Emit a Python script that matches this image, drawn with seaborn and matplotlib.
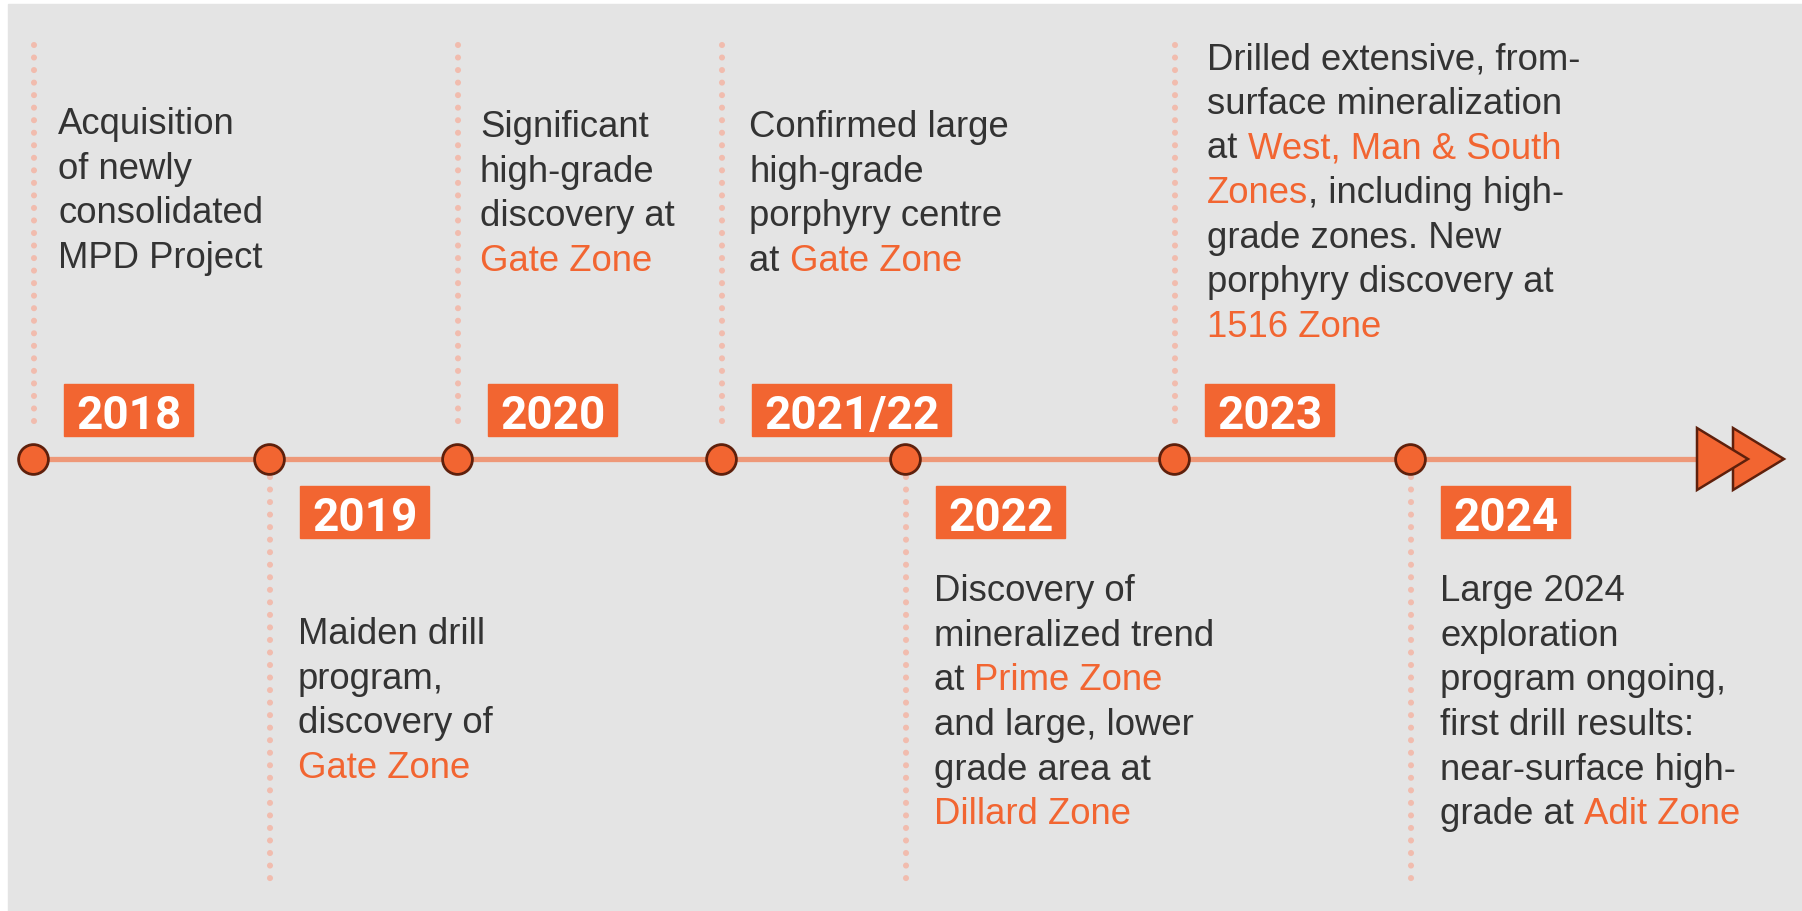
import re
import matplotlib
matplotlib.use("Agg")
import matplotlib.pyplot as plt
from matplotlib.patches import Rectangle, Polygon
import pandas as pd
import seaborn as sns

# timeline data
years = ["2018", "2019", "2020", "2021/22", "2022", "2023", "2024"]
event_x = [33, 269, 457, 721, 905, 1174, 1410]  # position along the timeline (px)
side = ["up", "down", "up", "up", "down", "up", "down"]
first_baseline = [134, 644, 137, 137, 601, 69, 601]
text_dx = [25, 29, 23, 28, 29, 33, 30]

# [..] = highlighted in orange
desc_2018 = ["Acquisition", "of newly", "consolidated", "MPD Project"]
desc_2019 = ["Maiden drill", "program,", "discovery of", "[Gate Zone]"]
desc_2020 = ["Significant", "high-grade", "discovery at", "[Gate Zone]"]
desc_2021 = ["Confirmed large", "high-grade", "porphyry centre", "at [Gate Zone]"]
desc_2022 = ["Discovery of", "mineralized trend", "at [Prime Zone]",
             "and large, lower", "grade area at", "[Dillard Zone]"]
desc_2023 = ["Drilled extensive, from-", "surface mineralization",
             "at [West, Man & South]", "[Zones], including high-",
             "grade zones. New", "porphyry discovery at", "[1516 Zone]"]
desc_2024 = ["Large 2024", "exploration", "program ongoing,",
             "first drill results:", "near-surface high-", "grade at [Adit Zone]"]
descriptions = [desc_2018, desc_2019, desc_2020, desc_2021, desc_2022, desc_2023, desc_2024]

ORANGE = "#F26531"
DARK = "#333333"
LINE_C = "#EE9878"
EDGE = "#5E200C"
DOT_C = "#F1BCAE"
BG = "#E4E4E4"

W, H = 1802, 912
line_y = 460
arrow_x = [1697, 1733]
line_h = 44.7

sns.set_style("white")
plt.rcParams["font.family"] = ["Liberation Sans", "DejaVu Sans"]

fig = plt.figure(figsize=(W / 100, H / 100), dpi=100)
ax = fig.add_axes([0, 0, 1, 1])
ax.set_xlim(0, W)
ax.set_ylim(H, 0)
ax.axis("off")
ax.add_patch(Rectangle((8, 5), W - 8, H - 5, color=BG, zorder=0))

df = pd.DataFrame({"year": years, "x": event_x, "y": [line_y] * len(years), "side": side})

# dotted connectors
for x, s in zip(event_x, side):
    y0, y1 = (46, 430) if s == "up" else (478, 886)
    ax.plot([x + 1, x + 1], [y0, y1], color=DOT_C, lw=4.4,
            linestyle=(0, (0.001, 2.05)), dash_capstyle="round", zorder=1)

# main line
sns.lineplot(x=[event_x[0], arrow_x[0]], y=[line_y, line_y], ax=ax,
             color=LINE_C, linewidth=3.8, zorder=2)

# arrow head
for ax0 in arrow_x[::-1]:
    ax.add_patch(Polygon([(ax0, 429), (ax0 + 51, line_y), (ax0, 491)], closed=True,
                         facecolor=ORANGE, edgecolor=EDGE, lw=1.8, joinstyle="miter", zorder=3))

# event markers
sns.scatterplot(data=df, x="x", y="y", ax=ax, s=460, color=ORANGE,
                edgecolor=EDGE, linewidth=2.0, zorder=4, legend=False)
ax.set_xlim(0, W)
ax.set_ylim(H, 0)
ax.axis("off")

renderer = fig.canvas.get_renderer()


def text_width(s, **kw):
    t = ax.text(0, 0, s, **kw)
    w = t.get_window_extent(renderer).width
    t.remove()
    return w


year_kw = dict(fontsize=33, fontweight="bold", family=["Roboto", "DejaVu Sans"])
body_kw = dict(fontsize=26.3)

for year, x, s, base, dx, lines in zip(years, event_x, side, first_baseline, text_dx, descriptions):
    # year label box
    tw = text_width(year, **year_kw)
    bx = x + 31
    top, bottom = (385, 437) if s == "up" else (487, 539)
    ax.add_patch(Rectangle((bx, top), tw + 24, bottom - top, color=ORANGE, zorder=5))
    ax.text(bx + 12, bottom - 8, year, color="white", va="baseline", ha="left",
            zorder=6, **year_kw)

    # description
    for i, line in enumerate(lines):
        y = base + i * line_h
        parts = [p for p in re.split(r"(\[[^\]]*\])", line) if p]
        prefix = ""
        for p in parts:
            hl = p.startswith("[")
            txt = p.strip("[]")
            off = text_width(prefix + "x", **body_kw) - text_width("x", **body_kw) if prefix else 0
            ax.text(x + dx + off, y, txt, color=ORANGE if hl else DARK,
                    va="baseline", ha="left", zorder=6, **body_kw)
            prefix += txt

fig.savefig("out.png", dpi=100, facecolor="white")
